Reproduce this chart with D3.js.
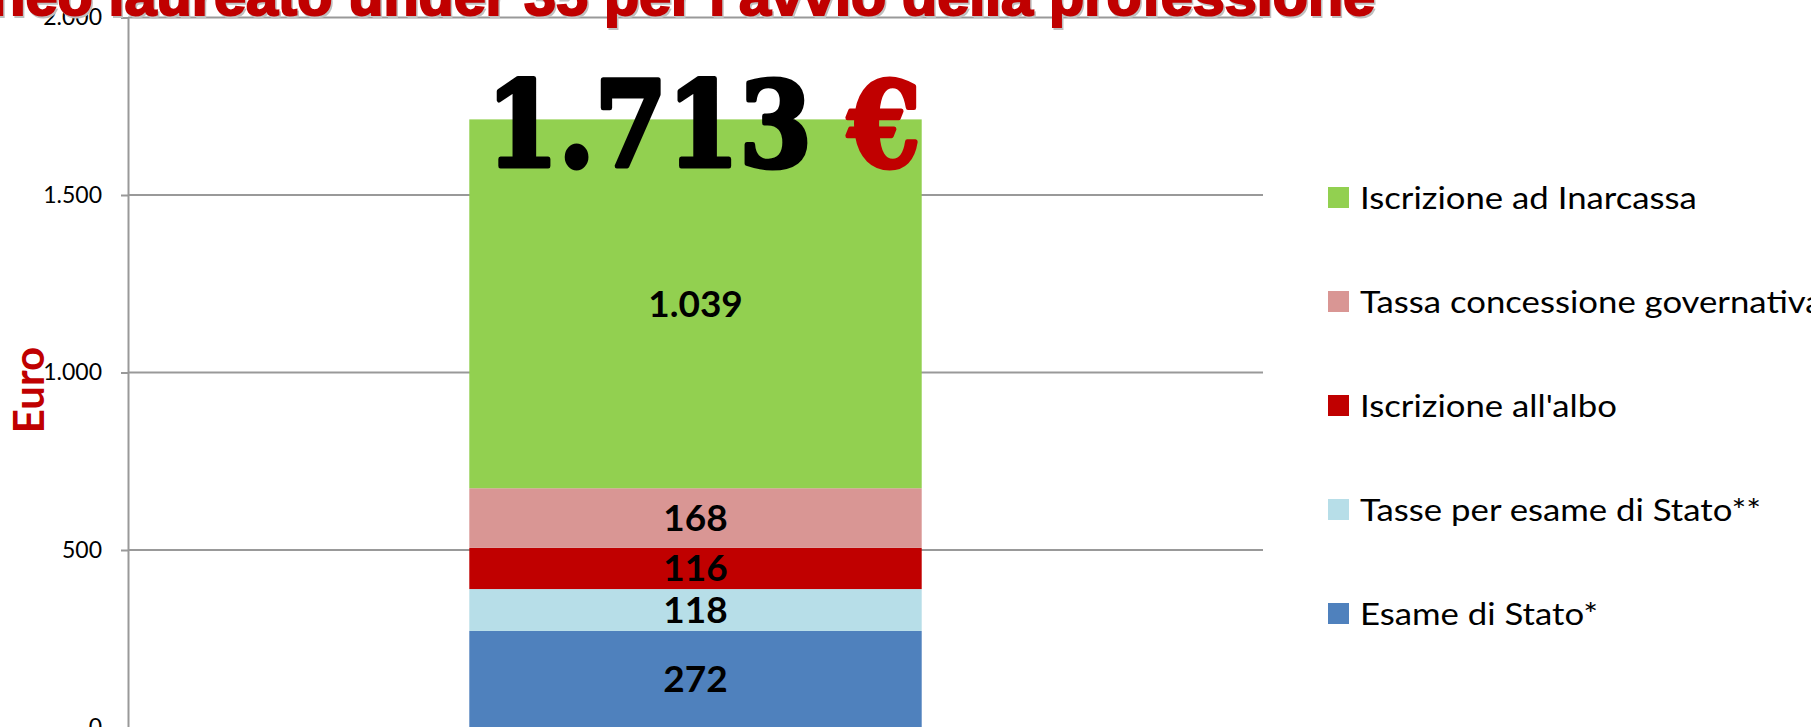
<!DOCTYPE html>
<html>
<head>
<meta charset="utf-8">
<script src="https://cdn.jsdelivr.net/npm/d3@7"></script>
<style>
  body { margin: 0; background: white; }
  svg { display: block; }
</style>
</head>
<body>
<div id="chart"></div>
<script>
// Data
const categories = ["Costi"];
const seriesNames = ["Esame di Stato*", "Tasse per esame di Stato**", "Iscrizione all'albo", "Tassa concessione governativa", "Iscrizione ad Inarcassa"];
const seriesValues = [272, 118, 116, 168, 1039];
const seriesColors = ["#4f81bd", "#b7dee8", "#c00000", "#d99694", "#92d050"];
const yTicks = [0, 500, 1000, 1500, 2000];
const titleText = "Costi per un ingegnere neo laureato under 35 per l'avvio della professione";
const titleVisible = "neo laureato under 35 per l'avvio della professione";
const yLabel = "Euro";

const width = 1811, height = 727;

const margin = { top: 17.5, bottom: 0, left: 128, right: 548 };

const it = d3.formatLocale({ decimal: ",", thousands: ".", grouping: [3], currency: ["", " €"] });
const fmt = it.format(",d");

const svg = d3.select('#chart')
  .append('svg')
  .attr('width', width)
  .attr('height', height)
  .style('background', 'white');

// scales
const xScale = d3.scaleBand()
  .domain(categories)
  .range([margin.left, width - margin.right])
  .padding(0.43);

const yScale = d3.scaleLinear()
  .domain([0, 2000])
  .range([727.5, margin.top]);

// gridlines
svg.append('g')
  .selectAll('line')
  .data(yTicks.filter(d => d > 0))
  .join('line')
  .attr('x1', margin.left)
  .attr('x2', width - margin.right)
  .attr('y1', d => yScale(d))
  .attr('y2', d => yScale(d))
  .attr('stroke', '#999')
  .attr('stroke-width', 2);

// y axis
const yaxis = svg.append('g')
  .attr('transform', `translate(${margin.left},0)`)
  .call(d3.axisLeft(yScale).tickValues(yTicks).tickFormat(fmt).tickSize(7).tickPadding(19));
yaxis.select('.domain').attr('stroke', '#999').attr('stroke-width', 2);
yaxis.selectAll('.tick line').attr('stroke', '#999').attr('stroke-width', 2);
yaxis.selectAll('.tick text')
  .style('font-family', 'Lato, sans-serif')
  .style('font-size', '23px')
  .attr('fill', '#000');

// y label
svg.append('text')
  .text(yLabel)
  .attr('transform', 'translate(44,390) rotate(-90)')
  .attr('text-anchor', 'middle')
  .style('font-family', 'Lato, sans-serif')
  .style('font-weight', 'bold')
  .style('font-size', '42px')
  .attr('fill', '#c00000');

// stacked segments
let base = 0;
const segs = seriesValues.map((v, i) => {
  const s = { name: seriesNames[i], value: v, y0: base, y1: base + v, color: seriesColors[i] };
  base += v;
  return s;
});
const total = d3.sum(seriesValues);
const x = xScale(categories[0]);
const bw = xScale.bandwidth();

svg.append('g')
  .selectAll('rect')
  .data(segs)
  .join('rect')
  .attr('x', x)
  .attr('width', bw)
  .attr('y', d => yScale(d.y1))
  .attr('height', d => yScale(d.y0) - yScale(d.y1))
  .attr('fill', d => d.color);

svg.append('g')
  .selectAll('text')
  .data(segs)
  .join('text')
  .text(d => fmt(d.value))
  .attr('x', x + bw / 2)
  .attr('y', d => (yScale(d.y0) + yScale(d.y1)) / 2 + 13)
  .attr('text-anchor', 'middle')
  .style('font-family', 'Lato, sans-serif')
  .style('font-weight', 'bold')
  .style('font-size', '37px')
  .attr('fill', '#000');

// total label
const tot = svg.append('text')
  .attr('x', x + 17)
  .attr('y', yScale(total) + 47)
  .attr('textLength', 434)
  .attr('lengthAdjust', 'spacingAndGlyphs')
  .style('font-family', '"DejaVu Serif", serif')
  .style('font-weight', 'bold')
  .style('font-size', '118px')
  .attr('stroke-width', 5)
  .attr('stroke-linejoin', 'round');
tot.append('tspan').text(fmt(total)).attr('fill', '#000').attr('stroke', '#000');
tot.append('tspan').text(' €').attr('fill', '#c00000').attr('stroke', '#c00000');

// legend
const legend = svg.append('g');
const legendItems = segs.slice().reverse();
legendItems.forEach((d, i) => {
  const cy = 197.5 + i * 104;
  legend.append('rect')
    .attr('x', 1328)
    .attr('y', cy - 10.5)
    .attr('width', 21)
    .attr('height', 21)
    .attr('fill', d.color);
  const t = legend.append('text')
    .text(d.name)
    .attr('x', 1360)
    .attr('y', cy + 11)
    .style('font-family', 'Lato, sans-serif')
    .style('font-size', '31px')
    .attr('fill', '#000');
  const len = t.node().getComputedTextLength();
  t.attr('textLength', len * 1.12).attr('lengthAdjust', 'spacingAndGlyphs');
});

// title (top part cut by the page edge)
const probe = svg.append('text')
  .text(titleVisible)
  .style('font-family', '"Liberation Sans Narrow", "Liberation Sans", sans-serif')
  .style('font-weight', 'bold')
  .style('font-size', '56px');
const sx = 1385 / probe.node().getComputedTextLength();
probe.remove();

[['#bfbfbf', 1.5], ['#c00000', 0]].forEach(([c, off]) => {
  svg.append('text')
    .text(titleText)
    .attr('transform', `translate(${1375 + off},${15 + off}) scale(${sx},1)`)
    .attr('text-anchor', 'end')
    .style('font-family', '"Liberation Sans Narrow", "Liberation Sans", sans-serif')
    .style('font-weight', 'bold')
    .style('font-size', '56px')
    .attr('fill', c)
    .attr('stroke', c)
    .attr('stroke-width', 2);
});
</script>
</body>
</html>
